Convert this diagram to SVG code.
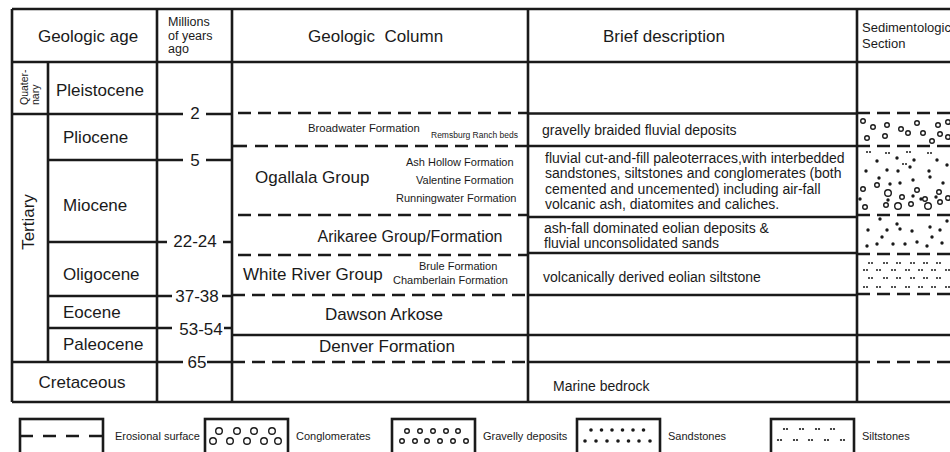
<svg xmlns="http://www.w3.org/2000/svg" width="950" height="452" viewBox="0 0 950 452">
<defs>
<style>
.ln{stroke:#1a1a1a;stroke-width:2.6;fill:none}
.ds{stroke:#1a1a1a;stroke-width:2.6;fill:none;stroke-dasharray:13 7}
.t{font-family:"Liberation Sans",Arial,sans-serif;fill:#1a1a1a}
.h{font-size:17px}
.ep{font-size:17px}
.num{font-size:17px;text-anchor:middle}
.f11{font-size:11px}
.d14{font-size:14px}
.lg{font-size:11px}
.oc{fill:none;stroke:#1a1a1a;stroke-width:1.4}
.dot{fill:#1a1a1a}
</style>
</defs>
<rect width="950" height="452" fill="#fff"/>

<g id="grid">
<!-- outer border -->
<path class="ln" d="M12 9 H952 M12 9 V402 M12 402 H952" stroke-width="3"/>
<line class="ln" x1="12" y1="62" x2="952" y2="62"/>
<line class="ln" x1="48" y1="62" x2="48" y2="362"/>
<line class="ln" x1="157" y1="9" x2="157" y2="402"/>
<line class="ln" x1="232" y1="9" x2="232" y2="402"/>
<line class="ln" x1="528" y1="9" x2="528" y2="402"/>
<line class="ln" x1="857" y1="9" x2="857" y2="402"/>
<!-- age boundaries with numbers -->
<path class="ln" d="M12 114 H183 M206 114 H232"/>
<path class="ln" d="M48 160 H183 M206 160 H232"/>
<path class="ln" d="M48 242 H167 M223 242 H232"/>
<path class="ln" d="M48 296 H172 M222 296 H232"/>
<path class="ln" d="M48 328 H172 M224 328 H232"/>
<path class="ln" d="M12 362 H183 M207 362 H232"/>
</g>

<g id="connectors">
<!-- geologic column boundaries -->
<line class="ds" x1="238" y1="113" x2="528" y2="113"/>
<path class="ln" d="M232 146 H247"/>
<line class="ds" x1="255" y1="146" x2="528" y2="146"/>
<line class="ds" x1="238" y1="215" x2="528" y2="215"/>
<line class="ds" x1="238" y1="255" x2="528" y2="255"/>
<line class="ds" x1="232" y1="295" x2="528" y2="295"/>
<line class="ln" x1="232" y1="335" x2="952" y2="335"/>
<line class="ds" x1="232" y1="362" x2="528" y2="362"/>
<!-- description boundaries -->
<line class="ln" x1="528" y1="113.5" x2="857" y2="113.5"/>
<line class="ln" x1="528" y1="146" x2="857" y2="146"/>
<line class="ln" x1="528" y1="217" x2="857" y2="217"/>
<line class="ln" x1="528" y1="253" x2="857" y2="253"/>
<line class="ln" x1="528" y1="295" x2="857" y2="295"/>
<line class="ln" x1="528" y1="362" x2="857" y2="362"/>
<!-- sedimentologic boundaries -->
<line class="ds" x1="857" y1="113" x2="952" y2="113"/>
<line class="ds" x1="857" y1="146" x2="952" y2="146"/>
<line class="ds" x1="857" y1="215" x2="952" y2="215"/>
<line class="ds" x1="857" y1="254" x2="952" y2="254"/>
<line class="ds" x1="857" y1="294" x2="952" y2="294"/>
<line class="ds" x1="857" y1="362" x2="952" y2="362"/>
</g>

<g id="headers" class="t">
<text class="h" x="88" y="42" text-anchor="middle">Geologic age</text>
<text font-size="12.5" x="168" y="26">Millions</text>
<text font-size="12.5" x="168" y="39.5">of years</text>
<text font-size="12.5" x="168" y="53">ago</text>
<text class="h" x="308" y="42" xml:space="preserve">Geologic  Column</text>
<text class="h" x="603" y="42">Brief description</text>
<text font-size="13" x="862" y="32">Sedimentologic</text>
<text font-size="13" x="862" y="48">Section</text>
</g>

<g id="periods" class="t">
<text font-size="10.5" transform="translate(28 105) rotate(-90)">Quater-</text>
<text font-size="10.5" transform="translate(39 105) rotate(-90)">nary</text>
<text font-size="17" text-anchor="middle" transform="translate(34 222) rotate(-90)">Tertiary</text>
<text class="ep" x="82" y="388" text-anchor="middle">Cretaceous</text>
</g>

<g id="epochs" class="t ep">
<text x="56" y="96">Pleistocene</text>
<text x="63" y="143">Pliocene</text>
<text x="63" y="211">Miocene</text>
<text x="63" y="280">Oligocene</text>
<text x="63" y="318">Eocene</text>
<text x="63" y="350">Paleocene</text>
</g>

<g id="ages" class="t num">
<text x="195" y="119">2</text>
<text x="195" y="166">5</text>
<text x="195" y="247">22-24</text>
<text x="197" y="301.5">37-38</text>
<text x="201" y="334.5">53-54</text>
<text x="197" y="368">65</text>
</g>

<g id="column" class="t">
<text font-size="11.3" x="308" y="132">Broadwater Formation</text>
<text font-size="8.5" x="431" y="138">Remsburg Ranch beds</text>
<text font-size="17" x="255" y="183">Ogallala Group</text>
<text class="f11" x="406" y="166">Ash Hollow Formation</text>
<text class="f11" x="416" y="184">Valentine Formation</text>
<text class="f11" x="396" y="202">Runningwater Formation</text>
<text font-size="16" x="410" y="242" text-anchor="middle">Arikaree Group/Formation</text>
<text font-size="17" x="243" y="280">White River Group</text>
<text class="f11" x="419" y="270">Brule Formation</text>
<text class="f11" x="393" y="284">Chamberlain Formation</text>
<text font-size="17" x="384" y="320" text-anchor="middle">Dawson Arkose</text>
<text font-size="17" x="387" y="352" text-anchor="middle">Denver Formation</text>
</g>

<g id="description" class="t d14">
<text x="542" y="135">gravelly braided fluvial deposits</text>
<text x="545" y="163">fluvial cut-and-fill paleoterraces,with interbedded</text>
<text x="545" y="178">sandstones, siltstones and conglomerates (both</text>
<text x="545" y="193.5">cemented and uncemented) including air-fall</text>
<text x="545" y="209">volcanic ash, diatomites and caliches.</text>
<text x="544" y="233">ash-fall dominated eolian deposits &amp;</text>
<text x="544" y="248">fluvial unconsolidated sands</text>
<text x="543" y="282">volcanically derived eolian siltstone</text>
<text x="553" y="391">Marine bedrock</text>
</g>

<g id="sediment">
<!-- gravelly -->
<g class="oc">
<circle cx="863" cy="121" r="2.3"/><circle cx="873" cy="127" r="2.3"/><circle cx="887" cy="125" r="2.3"/><circle cx="901" cy="129" r="2.3"/><circle cx="917" cy="123" r="2.3"/><circle cx="938" cy="125" r="2.3"/><circle cx="948" cy="122" r="2.3"/>
<circle cx="867" cy="138" r="2.3"/><circle cx="885" cy="136" r="2.3"/><circle cx="908" cy="133" r="2.3"/><circle cx="923" cy="133" r="2.3"/><circle cx="932" cy="141" r="2.3"/><circle cx="940" cy="134" r="2.3"/><circle cx="948" cy="137" r="2.3"/>
</g>
<!-- mixed -->
<g class="dot">
<circle cx="867" cy="152" r="1"/><circle cx="870" cy="152" r="1"/>
<circle cx="886" cy="153" r="1"/><circle cx="889" cy="153" r="1"/>
<circle cx="907" cy="152" r="1"/><circle cx="910" cy="152" r="1"/>
<circle cx="928" cy="153" r="1"/><circle cx="931" cy="153" r="1"/>
<circle cx="903" cy="164" r="1"/><circle cx="906" cy="164" r="1"/>
<circle cx="877" cy="161" r="1.7"/><circle cx="897" cy="158" r="1.7"/><circle cx="914" cy="160" r="1.7"/><circle cx="937" cy="160" r="1.7"/>
<circle cx="866" cy="171" r="1.7"/><circle cx="887" cy="170" r="1.7"/><circle cx="898" cy="171" r="1.7"/><circle cx="910" cy="167" r="1.7"/><circle cx="929" cy="171" r="1.7"/><circle cx="947" cy="165" r="1.7"/>
<circle cx="879" cy="178" r="1.7"/><circle cx="890" cy="184" r="1.7"/><circle cx="900" cy="183" r="1.7"/><circle cx="913" cy="180" r="1.7"/><circle cx="930" cy="177" r="1.7"/><circle cx="943" cy="183" r="1.7"/>
<circle cx="860" cy="199" r="1.7"/><circle cx="888" cy="200" r="1.7"/><circle cx="913" cy="196" r="1.7"/><circle cx="921" cy="199" r="1.7"/><circle cx="936" cy="197" r="1.7"/>
</g>
<g class="oc">
<circle cx="863" cy="189" r="2.3"/><circle cx="877" cy="185" r="2.3"/><circle cx="888" cy="193" r="3.3"/><circle cx="902" cy="197" r="2.3"/><circle cx="917" cy="190" r="2.3"/><circle cx="925" cy="199" r="2.3"/><circle cx="939" cy="192" r="2.3"/>
<circle cx="865" cy="207" r="2.3"/><circle cx="886" cy="205" r="2.3"/><circle cx="898" cy="206" r="3.3"/><circle cx="911" cy="204" r="2.3"/><circle cx="928" cy="206" r="3.3"/><circle cx="940" cy="202" r="2.3"/><circle cx="948" cy="198" r="2.3"/>
</g>
<!-- sand -->
<g class="dot">
<circle cx="880" cy="219" r="1.7"/><circle cx="897" cy="224" r="1.7"/><circle cx="947" cy="221" r="1.7"/>
<circle cx="868" cy="230" r="1.7"/><circle cx="887" cy="230" r="1.7"/><circle cx="900" cy="229" r="1.7"/><circle cx="912" cy="231" r="1.7"/><circle cx="930" cy="227" r="1.7"/><circle cx="940" cy="230" r="1.7"/>
<circle cx="882" cy="237" r="1.7"/><circle cx="932" cy="237" r="1.7"/>
<circle cx="867" cy="246" r="1.7"/><circle cx="877" cy="244" r="1.7"/><circle cx="893" cy="244" r="1.7"/><circle cx="905" cy="244" r="1.7"/><circle cx="917" cy="242" r="1.7"/><circle cx="927" cy="246" r="1.7"/><circle cx="942" cy="243" r="1.7"/>
</g>
<!-- silt -->
<g class="dot">
<circle cx="869" cy="263" r="1"/><circle cx="872" cy="263" r="1"/><circle cx="884" cy="263" r="1"/><circle cx="887" cy="263" r="1"/><circle cx="897" cy="263" r="1"/><circle cx="900" cy="263" r="1"/><circle cx="911" cy="263" r="1"/><circle cx="914" cy="263" r="1"/><circle cx="924" cy="263" r="1"/><circle cx="927" cy="263" r="1"/><circle cx="937" cy="263" r="1"/><circle cx="940" cy="263" r="1"/>
<circle cx="864" cy="270" r="1"/><circle cx="867" cy="270" r="1"/><circle cx="877" cy="270" r="1"/><circle cx="880" cy="270" r="1"/><circle cx="892" cy="270" r="1"/><circle cx="895" cy="270" r="1"/><circle cx="906" cy="270" r="1"/><circle cx="909" cy="270" r="1"/><circle cx="919" cy="270" r="1"/><circle cx="922" cy="270" r="1"/><circle cx="932" cy="270" r="1"/><circle cx="935" cy="270" r="1"/><circle cx="946" cy="270" r="1"/><circle cx="949" cy="270" r="1"/>
<circle cx="869" cy="278" r="1"/><circle cx="872" cy="278" r="1"/><circle cx="884" cy="278" r="1"/><circle cx="887" cy="278" r="1"/><circle cx="897" cy="278" r="1"/><circle cx="900" cy="278" r="1"/><circle cx="911" cy="278" r="1"/><circle cx="914" cy="278" r="1"/><circle cx="924" cy="278" r="1"/><circle cx="927" cy="278" r="1"/><circle cx="937" cy="278" r="1"/><circle cx="940" cy="278" r="1"/>
<circle cx="864" cy="287" r="1"/><circle cx="867" cy="287" r="1"/><circle cx="877" cy="287" r="1"/><circle cx="880" cy="287" r="1"/><circle cx="892" cy="287" r="1"/><circle cx="895" cy="287" r="1"/><circle cx="906" cy="287" r="1"/><circle cx="909" cy="287" r="1"/><circle cx="919" cy="287" r="1"/><circle cx="922" cy="287" r="1"/><circle cx="932" cy="287" r="1"/><circle cx="935" cy="287" r="1"/><circle cx="946" cy="287" r="1"/><circle cx="949" cy="287" r="1"/>
</g>
</g>

<g id="legend-erosional">
<rect class="ln" x="20" y="419" width="83" height="45" stroke-width="3"/>
<line class="ln" x1="20" y1="436" x2="103" y2="436" stroke-dasharray="13 10"/>
<text class="t lg" x="115" y="440">Erosional surface</text>
</g>
<g id="legend-conglomerates">
<rect class="ln" x="205" y="419" width="83" height="45" stroke-width="3"/>
<g class="oc" stroke-width="1.6">
<circle cx="219" cy="431" r="3.3"/><circle cx="237" cy="431" r="3.3"/><circle cx="254" cy="431" r="3.3"/><circle cx="272" cy="431" r="3.3"/>
<circle cx="213" cy="441" r="3.3"/><circle cx="230" cy="441" r="3.3"/><circle cx="247" cy="441" r="3.3"/><circle cx="264" cy="441" r="3.3"/><circle cx="278" cy="441" r="3.3"/>
</g>
<text class="t lg" x="296" y="440">Conglomerates</text>
</g>
<g id="legend-gravelly">
<rect class="ln" x="392" y="419" width="83" height="45" stroke-width="3"/>
<g class="oc" stroke-width="1.4">
<circle cx="407" cy="431" r="2.3"/><circle cx="420" cy="431" r="2.3"/><circle cx="433" cy="431" r="2.3"/><circle cx="446" cy="431" r="2.3"/><circle cx="458" cy="431" r="2.3"/>
<circle cx="402" cy="441" r="2.3"/><circle cx="415" cy="441" r="2.3"/><circle cx="427" cy="441" r="2.3"/><circle cx="440" cy="441" r="2.3"/><circle cx="453" cy="441" r="2.3"/><circle cx="466" cy="441" r="2.3"/>
</g>
<text class="t lg" x="483" y="440">Gravelly deposits</text>
</g>
<g id="legend-sandstones">
<rect class="ln" x="577" y="419" width="83" height="45" stroke-width="3"/>
<g class="dot">
<circle cx="591" cy="430" r="1.8"/><circle cx="601.5" cy="430" r="1.8"/><circle cx="612" cy="430" r="1.8"/><circle cx="622.5" cy="430" r="1.8"/><circle cx="633" cy="430" r="1.8"/><circle cx="643.5" cy="430" r="1.8"/>
<circle cx="585" cy="441" r="1.8"/><circle cx="596" cy="441" r="1.8"/><circle cx="607" cy="441" r="1.8"/><circle cx="618" cy="441" r="1.8"/><circle cx="628.5" cy="441" r="1.8"/><circle cx="639" cy="441" r="1.8"/><circle cx="650" cy="441" r="1.8"/>
</g>
<text class="t lg" x="668" y="440">Sandstones</text>
</g>
<g id="legend-siltstones">
<rect class="ln" x="771" y="419" width="83" height="45" stroke-width="3"/>
<g class="dot">
<circle cx="784" cy="429" r="1.1"/><circle cx="787" cy="429" r="1.1"/><circle cx="800" cy="429" r="1.1"/><circle cx="803" cy="429" r="1.1"/><circle cx="816" cy="429" r="1.1"/><circle cx="819" cy="429" r="1.1"/><circle cx="831" cy="429" r="1.1"/><circle cx="834" cy="429" r="1.1"/>
<circle cx="778" cy="440" r="1.1"/><circle cx="781" cy="440" r="1.1"/><circle cx="794" cy="440" r="1.1"/><circle cx="797" cy="440" r="1.1"/><circle cx="809" cy="440" r="1.1"/><circle cx="812" cy="440" r="1.1"/><circle cx="825" cy="440" r="1.1"/><circle cx="828" cy="440" r="1.1"/><circle cx="841" cy="440" r="1.1"/><circle cx="844" cy="440" r="1.1"/>
</g>
<text class="t lg" x="862" y="440">Siltstones</text>
</g>
</svg>
